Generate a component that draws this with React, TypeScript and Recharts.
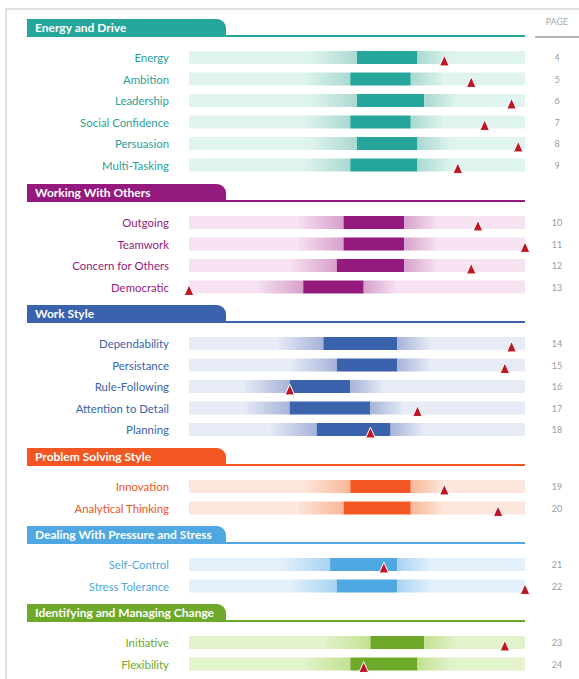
import { Bar, ComposedChart, Scatter, XAxis, YAxis } from 'recharts';

const energyLabels = ['Energy', 'Ambition', 'Leadership', 'Social Confidence', 'Persuasion', 'Multi-Tasking'];
const energyLow = [50, 48, 50, 48, 50, 48];
const energyHigh = [68, 66, 70, 66, 68, 68];
const energyMarker = [76, 84, 96, 88, 98, 80];
const energyPages = [4, 5, 6, 7, 8, 9];

const othersLabels = ['Outgoing', 'Teamwork', 'Concern for Others', 'Democratic'];
const othersLow = [46, 46, 44, 34];
const othersHigh = [64, 64, 64, 52];
const othersMarker = [86, 100, 84, 0];
const othersPages = [10, 11, 12, 13];

const styleLabels = ['Dependability', 'Persistance', 'Rule-Following', 'Attention to Detail', 'Planning'];
const styleLow = [40, 44, 30, 30, 38];
const styleHigh = [62, 62, 48, 54, 60];
const styleMarker = [96, 94, 30, 68, 54];
const stylePages = [14, 15, 16, 17, 18];

const problemLabels = ['Innovation', 'Analytical Thinking'];
const problemLow = [48, 46];
const problemHigh = [66, 66];
const problemMarker = [76, 92];
const problemPages = [19, 20];

const stressLabels = ['Self-Control', 'Stress Tolerance'];
const stressLow = [42, 44];
const stressHigh = [62, 62];
const stressMarker = [58, 100];
const stressPages = [21, 22];

const changeLabels = ['Initiative', 'Flexibility'];
const changeLow = [54, 48];
const changeHigh = [70, 68];
const changeMarker = [94, 52];
const changePages = [23, 24];

const sections = [
  { id: 'energy', title: 'Energy and Drive', labels: energyLabels, low: energyLow, high: energyHigh, marker: energyMarker, pages: energyPages, core: '#26A69A', bg: '#DFF4EE', mid: '#A9D9D1', text: '#2AA198' },
  { id: 'others', title: 'Working With Others', labels: othersLabels, low: othersLow, high: othersHigh, marker: othersMarker, pages: othersPages, core: '#951A7E', bg: '#F6E2F1', mid: '#D7A0CB', text: '#951A7E' },
  { id: 'style', title: 'Work Style', labels: styleLabels, low: styleLow, high: styleHigh, marker: styleMarker, pages: stylePages, core: '#3A62AD', bg: '#E7EBF6', mid: '#A6B3D9', text: '#3A62AD' },
  { id: 'problem', title: 'Problem Solving Style', labels: problemLabels, low: problemLow, high: problemHigh, marker: problemMarker, pages: problemPages, core: '#F15623', bg: '#FDE6DB', mid: '#F8B797', text: '#F15623' },
  { id: 'stress', title: 'Dealing With Pressure and Stress', labels: stressLabels, low: stressLow, high: stressHigh, marker: stressMarker, pages: stressPages, core: '#4FA8E1', bg: '#E1F0FB', mid: '#A8D3F1', text: '#4FA8E1' },
  { id: 'change', title: 'Identifying and Managing Change', labels: changeLabels, low: changeLow, high: changeHigh, marker: changeMarker, pages: changePages, core: '#6EA929', bg: '#E2F2CB', mid: '#C2E190', text: '#6EA929' },
];

const GRAD_L = 14;
const GRAD_R = 10;
const ROW = 21.5;
const FONT = 'Lato, "Open Sans", sans-serif';

function Triangle(props: any) {
  const { cx, cy } = props;
  if (cx == null || cy == null) return null;
  return (
    <path
      d={`M${cx},${cy - 2.5} L${cx + 4.8},${cy + 8.2} L${cx - 4.8},${cy + 8.2} Z`}
      fill="#BE1622"
      stroke="#fff"
      strokeWidth={1}
    />
  );
}

function Section({ s }: { s: (typeof sections)[number] }) {
  const rows = s.labels.map((name, i) => {
    const low = s.low[i];
    const high = s.high[i];
    const gl = Math.min(GRAD_L, low);
    const gr = Math.min(GRAD_R, 100 - high);
    return {
      name,
      page: String(s.pages[i]),
      pad: low - gl,
      gl,
      core: high - low,
      gr,
      rest: 100 - high - gr,
      marker: s.marker[i],
    };
  });

  return (
    <div style={{ marginBottom: 7.25 }}>
      <div style={{ position: 'relative', height: 18 }}>
        <div
          style={{
            position: 'absolute',
            left: 27,
            top: 0,
            width: 199,
            height: 18,
            background: s.core,
            borderTopRightRadius: 9,
            color: '#fff',
            fontWeight: 700,
            fontSize: 12,
            lineHeight: '18px',
            paddingLeft: 8,
            boxSizing: 'border-box',
            whiteSpace: 'nowrap',
          }}
        >
          {s.title}
        </div>
        <div style={{ position: 'absolute', left: 226, top: 16, width: 299, height: 2, background: s.core }} />
      </div>
      <div style={{ height: 10 }} />
      <ComposedChart
        width={579}
        height={rows.length * ROW}
        data={rows}
        layout="vertical"
        barSize={13}
        margin={{ top: 0, right: 0, bottom: 0, left: 0 }}
        style={{ overflow: 'visible' }}
      >
        <defs>
          <linearGradient id={`gl-${s.id}`} x1="0" y1="0" x2="1" y2="0">
            <stop offset="0%" stopColor={s.bg} />
            <stop offset="100%" stopColor={s.mid} />
          </linearGradient>
          <linearGradient id={`gr-${s.id}`} x1="0" y1="0" x2="1" y2="0">
            <stop offset="0%" stopColor={s.mid} />
            <stop offset="100%" stopColor={s.bg} />
          </linearGradient>
        </defs>
        <XAxis type="number" domain={[0, 100]} hide />
        <YAxis
          type="category"
          dataKey="name"
          width={189}
          axisLine={false}
          tickLine={false}
          tickSize={0}
          tickMargin={20}
          interval={0}
          tick={(p: any) => (
            <text x={p.x} y={p.y} textAnchor="end" dominantBaseline="central" fill={s.text} fontSize={11.4} fontFamily={FONT}>
              {p.payload.value}
            </text>
          )}
        />
        <YAxis
          yAxisId="page"
          orientation="right"
          type="category"
          dataKey="page"
          width={54}
          axisLine={false}
          tickLine={false}
          tickSize={0}
          tickMargin={32}
          interval={0}
          tick={(p: any) => (
            <text x={p.x} y={p.y} textAnchor="middle" dominantBaseline="central" fill="#9a9a9a" fontSize={9} fontFamily={FONT}>
              {p.payload.value}
            </text>
          )}
        />
        <Bar dataKey="pad" stackId="s" fill={s.bg} isAnimationActive={false} />
        <Bar dataKey="gl" stackId="s" fill={`url(#gl-${s.id})`} isAnimationActive={false} />
        <Bar dataKey="core" stackId="s" fill={s.core} isAnimationActive={false} />
        <Bar dataKey="gr" stackId="s" fill={`url(#gr-${s.id})`} isAnimationActive={false} />
        <Bar dataKey="rest" stackId="s" fill={s.bg} isAnimationActive={false} />
        <Scatter dataKey="marker" shape={Triangle} isAnimationActive={false} />
      </ComposedChart>
    </div>
  );
}

export default function App() {
  return (
    <div style={{ position: 'absolute', left: 0, top: 0, width: 579, height: 679, overflow: 'hidden', background: '#fff', fontFamily: FONT }}>
      <div style={{ position: 'absolute', left: 5, top: 8, right: 0, height: 2, background: '#e2e2e2' }} />
      <div style={{ position: 'absolute', left: 5, top: 8, bottom: 0, width: 2, background: '#e2e2e2' }} />
      <div style={{ position: 'absolute', left: 535, top: 17, width: 44, textAlign: 'center', fontSize: 8.5, color: '#a8a8a8', letterSpacing: 0.3 }}>
        PAGE
      </div>
      <div style={{ position: 'absolute', left: 535, top: 36, width: 44, height: 2, background: '#b4b4b4' }} />
      <div style={{ position: 'absolute', left: 0, top: 19.3, width: 579 }}>
        {sections.map((s) => (
          <Section key={s.id} s={s} />
        ))}
      </div>
    </div>
  );
}
